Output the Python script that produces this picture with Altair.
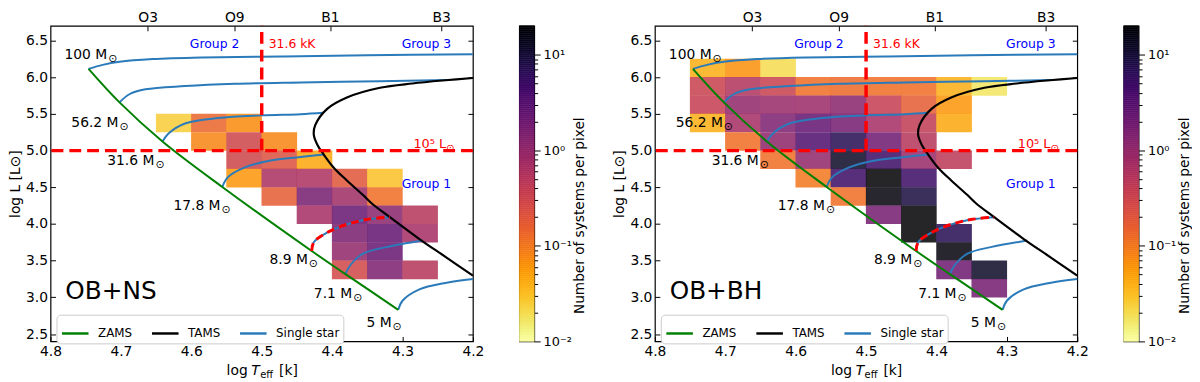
import numpy as np
import pandas as pd
import altair as alt

# ---------------- heat-map cells: centre log Teff, centre log L, systems per pixel ----------------
NS_T = [4.625, 4.575, 4.525,
        4.575, 4.525, 4.475,
        4.525, 4.475, 4.425,
        4.525, 4.475, 4.425, 4.375, 4.325,
        4.475, 4.425, 4.375, 4.325,
        4.425, 4.375, 4.325, 4.275,
        4.375, 4.325, 4.275,
        4.375, 4.325,
        4.375, 4.325, 4.275]
NS_L = [5.375, 5.375, 5.375,
        5.125, 5.125, 5.125,
        4.875, 4.875, 4.875,
        4.625, 4.625, 4.625, 4.625, 4.625,
        4.375, 4.375, 4.375, 4.375,
        4.125, 4.125, 4.125, 4.125,
        3.875, 3.875, 3.875,
        3.625, 3.625,
        3.375, 3.375, 3.375]
NS_N = [0.025, 0.14, 0.07,
        0.08, 0.3, 0.08,
        0.3, 0.22, 0.045,
        0.06, 0.65, 0.6, 0.2, 0.03,
        0.17, 1.7, 0.8, 0.12,
        0.7, 2.3, 1.2, 0.5,
        1.6, 2.5, 0.7,
        1.0, 2.3,
        0.28, 1.5, 0.5]

BH_T = [4.725, 4.675, 4.625,
        4.725, 4.675, 4.625, 4.575, 4.525, 4.475, 4.425, 4.375, 4.325,
        4.725, 4.675, 4.625, 4.575, 4.525, 4.475, 4.425, 4.375,
        4.725, 4.675, 4.625, 4.575, 4.525, 4.475, 4.425, 4.375,
        4.675, 4.625, 4.575, 4.525, 4.475, 4.425,
        4.625, 4.575, 4.525, 4.475, 4.425, 4.375,
        4.575, 4.525, 4.475, 4.425,
        4.525, 4.475, 4.425,
        4.475, 4.425,
        4.425, 4.375,
        4.375,
        4.375, 4.325,
        4.325]
BH_L = [6.125, 6.125, 6.125,
        5.875, 5.875, 5.875, 5.875, 5.875, 5.875, 5.875, 5.875, 5.875,
        5.625, 5.625, 5.625, 5.625, 5.625, 5.625, 5.625, 5.625,
        5.375, 5.375, 5.375, 5.375, 5.375, 5.375, 5.375, 5.375,
        5.125, 5.125, 5.125, 5.125, 5.125, 5.125,
        4.875, 4.875, 4.875, 4.875, 4.875, 4.875,
        4.625, 4.625, 4.625, 4.625,
        4.375, 4.375, 4.375,
        4.125, 4.125,
        3.875, 3.875,
        3.625,
        3.375, 3.375,
        3.125]
BH_N = [0.04, 0.065, 0.02,
        0.35, 0.55, 0.35, 0.12, 0.13, 0.12, 0.12, 0.04, 0.017,
        0.38, 1.0, 0.9, 0.85, 1.2, 0.38, 0.17, 0.06,
        0.04, 0.7, 1.5, 2.5, 1.8, 0.7, 0.4, 0.045,
        0.12, 1.1, 3.5, 7.0, 2.0, 0.5,
        0.12, 1.0, 12.0, 5.0, 0.9, 0.45,
        0.1, 5.0, 20.0, 5.0,
        0.12, 18.0, 9.0,
        1.8, 20.0,
        20.0, 7.0,
        18.0,
        2.0, 12.0,
        1.8]

# ---------------- evolutionary curves ----------------
ZAMS_T = [4.746, 4.702, 4.641, 4.556, 4.429, 4.381, 4.306]
ZAMS_L = [6.114, 5.657, 5.125, 4.505, 3.632, 3.317, 2.830]

TAMS_T = [4.200, 4.239, 4.286, 4.332, 4.379, 4.407, 4.424, 4.426, 4.421, 4.412, 4.398, 4.379,
          4.356, 4.344, 4.318, 4.276, 4.239, 4.200]
TAMS_L = [5.990, 5.959, 5.915, 5.856, 5.724, 5.569, 5.347, 5.214, 5.081, 4.948, 4.771, 4.593,
          4.394, 4.283, 4.093, 3.795, 3.552, 3.295]

M100_T = [4.746, 4.726, 4.702, 4.655, 4.585, 4.473, 4.350, 4.200]
M100_L = [6.114, 6.168, 6.210, 6.247, 6.269, 6.282, 6.300, 6.314]
M56_T = [4.702, 4.688, 4.665, 4.609, 4.538, 4.445, 4.332, 4.236]
M56_L = [5.657, 5.768, 5.835, 5.879, 5.910, 5.928, 5.945, 5.962]
M31_T = [4.641, 4.632, 4.609, 4.562, 4.501, 4.445, 4.412]
M31_L = [5.125, 5.237, 5.370, 5.444, 5.480, 5.497, 5.516]
M17_T = [4.556, 4.548, 4.524, 4.491, 4.445, 4.412]
M17_L = [4.505, 4.638, 4.771, 4.859, 4.912, 4.948]
M8_T = [4.429, 4.426, 4.407, 4.379, 4.351, 4.318]
M8_L = [3.632, 3.751, 3.884, 3.995, 4.061, 4.093]
M7_T = [4.381, 4.374, 4.356, 4.323, 4.271]
M7_L = [3.317, 3.441, 3.596, 3.685, 3.774]
M5_T = [4.306, 4.300, 4.276, 4.239, 4.200]
M5_L = [2.830, 2.954, 3.109, 3.197, 3.250]

# ---------------- annotations ----------------
MASS_TEXT = ["100 M", "56.2 M", "31.6 M", "17.8 M", "8.9 M", "7.1 M", "5 M"]
MASS_T = [4.704, 4.688, 4.637, 4.543, 4.419, 4.356, 4.300]
MASS_L = [6.30, 5.37, 4.86, 4.24, 3.51, 3.05, 2.65]

GROUP_TEXT = ["Group 2", "Group 3", "Group 1"]
GROUP_T = [4.567, 4.266, 4.266]
GROUP_L = [6.45, 6.45, 4.55]

TEFF_LIMIT = 4.5        # log(31.6 kK)
LUM_LIMIT = 5.0         # log(1e5 Lsun)
Y_TOP = 6.7

SPEC_T = [4.662, 4.539, 4.403, 4.245]
SPEC_NAMES = ["O3", "O9", "B1", "B3"]

XTICKS = [4.8, 4.7, 4.6, 4.5, 4.4, 4.3, 4.2]
YTICKS = [2.5, 3.0, 3.5, 4.0, 4.5, 5.0, 5.5, 6.0, 6.5]

CB_MAJOR = [0.01, 0.1, 1, 10]
CB_MAJOR_TEXT = ["10⁻²", "10⁻¹", "10⁰", "10¹"]
CB_MINOR = [0.02, 0.03, 0.04, 0.05, 0.06, 0.07, 0.08, 0.09,
            0.2, 0.3, 0.4, 0.5, 0.6, 0.7, 0.8, 0.9,
            2, 3, 4, 5, 6, 7, 8, 9]
CMIN, CMAX = 0.01, 20

W, H = 427, 319
FONT = "DejaVu Sans"
BLUE = "#2b7bba"

# ---------------- tables ----------------
def cells(T, L, N):
    df = pd.DataFrame({"T": T, "L": L, "n": N})
    df["x0"] = df["T"] - 0.0253
    df["x1"] = df["T"] + 0.0253
    df["y0"] = df["L"] - 0.1265
    df["y1"] = df["L"] + 0.1265
    return df

ns_cells = cells(NS_T, NS_L, NS_N)
bh_cells = cells(BH_T, BH_L, BH_N)

def curve(T, L, name, kind):
    return pd.DataFrame({"T": T, "L": L, "curve": name, "kind": kind, "i": range(len(T))})

tracks_df = pd.concat([
    curve(M100_T, M100_L, "100", "Single star"),
    curve(M56_T, M56_L, "56", "Single star"),
    curve(M31_T, M31_L, "31", "Single star"),
    curve(M17_T, M17_L, "17", "Single star"),
    curve(M8_T, M8_L, "8", "Single star"),
    curve(M7_T, M7_L, "7", "Single star"),
    curve(M5_T, M5_L, "5", "Single star"),
])
zams_df = curve(ZAMS_T, ZAMS_L, "zams", "ZAMS")
tams_df = curve(TAMS_T, TAMS_L, "tams", "TAMS")
m8_df = curve(M8_T, M8_L, "8", "Single star")

mass_df = pd.DataFrame({"T": MASS_T, "L": MASS_L, "text": MASS_TEXT})
group_df = pd.DataFrame({"T": GROUP_T, "L": GROUP_L, "text": GROUP_TEXT})
ONE = pd.DataFrame({"a": [0]})

XS = alt.Scale(domain=[4.2, 4.8], reverse=True, nice=False, zero=False)
YS = alt.Scale(domain=[2.4, Y_TOP], nice=False, zero=False)
CS = alt.Scale(type="log", domain=[CMIN, CMAX], scheme="inferno", reverse=True)
SS = alt.Scale(domain=["ZAMS", "TAMS", "Single star"], range=["#008000", "black", BLUE])

spec_expr = " : ".join(
    f"abs(datum.value - {t}) < 0.001 ? '{n}'" for t, n in zip(SPEC_T, SPEC_NAMES)) + " : ''"

ax_bottom = alt.Axis(orient="bottom", values=XTICKS, format=".1f", offset=-5, tickSize=5,
                     domain=False, grid=False, labelFontSize=14, labelPadding=3,
                     labelFlush=False, labelOverlap=False, title=None)
ax_left = alt.Axis(orient="left", values=YTICKS, format=".1f", offset=-5, tickSize=5,
                   domain=False, grid=False, labelFontSize=14, labelPadding=3,
                   labelOverlap=False, title="log L [L⊙]", titleFontSize=14,
                   titleFontWeight="normal", titlePadding=3)
ax_top = alt.Axis(orient="top", values=SPEC_T, labelExpr=spec_expr, offset=-5, tickSize=5,
                  domain=False, grid=False, labelFontSize=14, labelPadding=1,
                  labelFlush=False, labelOverlap=False, title=None)
ax_right = alt.Axis(orient="right", values=YTICKS, offset=-5, tickSize=5, domain=False,
                    grid=False, labels=False, title=None)

legend = alt.Legend(orient="none", legendX=6, legendY=H - 27, direction="horizontal",
                    columns=3, title=None, symbolType="stroke", symbolSize=720,
                    symbolStrokeWidth=2.5, labelFontSize=12, labelOffset=8,
                    columnPadding=14, strokeColor="#cccccc", fillColor="white",
                    cornerRadius=4, padding=4)


def xpos(f="T"):
    return alt.X(f"{f}:Q", scale=XS, axis=None)


def ypos(f="L"):
    return alt.Y(f"{f}:Q", scale=YS, axis=None)


def panel(cdf, name):
    heat = alt.Chart(cdf).mark_rect(opacity=0.85).encode(
        x=alt.X("x0:Q", scale=XS, axis=ax_bottom), x2="x1:Q",
        y=alt.Y("y0:Q", scale=YS, axis=ax_left), y2="y1:Q",
        color=alt.Color("n:Q", scale=CS, legend=None))
    tracks = alt.Chart(tracks_df).mark_line(strokeWidth=2, interpolate="catmull-rom").encode(
        x=xpos(), y=ypos(), detail="curve:N", order="i:Q",
        stroke=alt.Stroke("kind:N", scale=SS, legend=legend))
    zams = alt.Chart(zams_df).mark_line(strokeWidth=2, interpolate="catmull-rom").encode(
        x=alt.X("T:Q", scale=XS, axis=ax_top), y=alt.Y("L:Q", scale=YS, axis=ax_right),
        order="i:Q", stroke=alt.Stroke("kind:N", scale=SS, legend=legend))
    tams = alt.Chart(tams_df).mark_line(strokeWidth=2.2, interpolate="catmull-rom").encode(
        x=xpos(), y=ypos(), order="i:Q",
        stroke=alt.Stroke("kind:N", scale=SS, legend=legend))
    hline = alt.Chart(ONE).mark_rule(color="red", strokeDash=[12, 6], strokeWidth=3.5).encode(
        y=alt.datum(LUM_LIMIT, scale=YS, axis=None))
    vline = alt.Chart(ONE).mark_rule(color="red", strokeDash=[12, 6], strokeWidth=3.5).encode(
        x=alt.datum(TEFF_LIMIT, scale=XS, axis=None),
        y=alt.datum(LUM_LIMIT, scale=YS, axis=None), y2=alt.datum(Y_TOP))
    red8 = alt.Chart(m8_df).mark_line(color="red", strokeDash=[8, 5], strokeWidth=3,
                                      interpolate="catmull-rom").encode(
        x=xpos(), y=ypos(), order="i:Q")
    mass_main = alt.Chart(mass_df).mark_text(align="right", baseline="middle", dx=-11,
                                             fontSize=14, color="black").encode(
        x=xpos(), y=ypos(), text="text:N")
    mass_sun = alt.Chart(mass_df).mark_text(align="left", baseline="middle", dx=-10, dy=4,
                                            fontSize=11, color="black").encode(
        x=xpos(), y=ypos(), text=alt.value("⊙"))
    groups = alt.Chart(group_df).mark_text(align="center", baseline="middle", fontSize=12.5,
                                           color="#0000ff").encode(
        x=xpos(), y=ypos(), text="text:N")
    kk = alt.Chart(ONE).mark_text(align="left", baseline="middle", fontSize=12.5, color="red").encode(
        x=alt.datum(4.49, scale=XS, axis=None), y=alt.datum(6.45, scale=YS, axis=None),
        text=alt.value("31.6 kK"))
    lum = alt.Chart(ONE).mark_text(align="right", baseline="middle", fontSize=13, color="red",
                                   dx=-10).encode(
        x=alt.datum(4.224, scale=XS, axis=None), y=alt.datum(5.09, scale=YS, axis=None),
        text=alt.value("10⁵ L"))
    lum_sun = alt.Chart(ONE).mark_text(align="left", baseline="middle", fontSize=10, color="red",
                                       dx=-10, dy=4).encode(
        x=alt.datum(4.224, scale=XS, axis=None), y=alt.datum(5.09, scale=YS, axis=None),
        text=alt.value("⊙"))
    label = alt.Chart(ONE).mark_text(align="left", baseline="middle", fontSize=25,
                                     color="black").encode(
        x=alt.datum(4.779, scale=XS, axis=None), y=alt.datum(3.09, scale=YS, axis=None),
        text=alt.value(name))
    # x-axis title: log T_eff [k]
    t1 = alt.Chart(ONE).mark_text(align="left", baseline="alphabetic", fontSize=14).encode(
        x=alt.value(178), y=alt.value(H + 34), text=alt.value("log"))
    t2 = alt.Chart(ONE).mark_text(align="left", baseline="alphabetic", fontSize=14,
                                  fontStyle="italic").encode(
        x=alt.value(203), y=alt.value(H + 34), text=alt.value("T"))
    t3 = alt.Chart(ONE).mark_text(align="left", baseline="alphabetic", fontSize=10).encode(
        x=alt.value(212), y=alt.value(H + 37), text=alt.value("eff"))
    t4 = alt.Chart(ONE).mark_text(align="left", baseline="alphabetic", fontSize=14).encode(
        x=alt.value(231), y=alt.value(H + 34), text=alt.value("[k]"))
    return alt.layer(heat, tracks, zams, tams, hline, vline, red8, mass_main, mass_sun,
                     groups, kk, lum, lum_sun, label, t1, t2, t3, t4).resolve_axis(
        x="independent", y="independent").properties(width=W, height=H)


def colorbar():
    edges = np.logspace(np.log10(CMIN), np.log10(CMAX), 161)
    cb = pd.DataFrame({"lo": edges[:-1], "hi": edges[1:]})
    cb["mid"] = np.sqrt(cb["lo"] * cb["hi"])
    major_test = " || ".join(f"datum.value == {v}" for v in CB_MAJOR)
    lab_expr = " : ".join(f"datum.value == {v} ? '{t}'" for v, t in zip(CB_MAJOR, CB_MAJOR_TEXT)) + " : ''"
    return alt.Chart(cb).mark_rect(strokeWidth=0.6).encode(
        x=alt.value(0), x2=alt.value(15),
        y=alt.Y("lo:Q", scale=alt.Scale(type="log", domain=[CMIN, CMAX], nice=False),
                axis=alt.Axis(orient="right", values=CB_MAJOR + CB_MINOR, labelExpr=lab_expr,
                              tickSize={"condition": {"test": major_test, "value": 6}, "value": 3.5},
                              grid=False, domain=False, labelFontSize=13, labelPadding=3,
                              labelOverlap=False, labelFlush=False,
                              title="Number of systems per pixel", titleAngle=270,
                              titleFontSize=13.8, titleFontWeight="normal",
                              titleX=46, titleY=H * 0.6, titleAlign="center",
                              titleBaseline="middle")),
        y2="hi:Q",
        color=alt.Color("mid:Q", scale=CS, legend=None),
        stroke=alt.Stroke("mid:Q", scale=CS, legend=None),
    ).properties(width=15, height=H)


spacer = alt.Chart(ONE).mark_point(opacity=0).encode(
    x=alt.value(0), y=alt.value(0)).properties(
    width=28, height=H, view=alt.ViewBackground(stroke="transparent"))

chart = alt.hconcat(
    panel(ns_cells, "OB+NS"), colorbar(), spacer, panel(bh_cells, "OB+BH"), colorbar(),
    spacing=47, bounds="flush",
).resolve_scale(stroke="independent").resolve_legend(stroke="independent").properties(
    padding={"left": 0, "top": 0, "right": 0, "bottom": 0}
).configure(font=FONT).configure_view(stroke="black", strokeWidth=1.2).configure_axis(
    labelColor="black", tickColor="black", titleColor="black", labelFont=FONT, titleFont=FONT
).configure_text(font=FONT)

chart.save("out.html", embed_options={"renderer": "svg", "actions": False})
